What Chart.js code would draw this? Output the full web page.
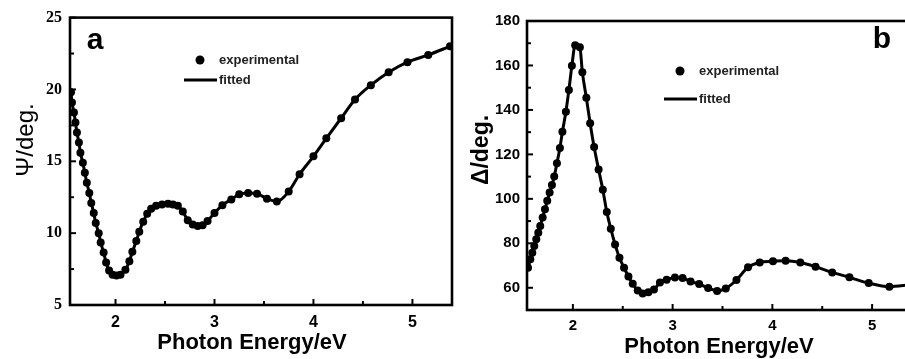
<!DOCTYPE html>
<html>
<head>
<meta charset="utf-8">
<script src="https://cdn.jsdelivr.net/npm/chart.js@4.4.1/dist/chart.umd.min.js"></script>
<style>
  html, body { margin: 0; padding: 0; background: #fff; overflow: hidden; width: 905px; height: 359px; }
  canvas { position: absolute; top: 0; }
  #chartA { left: 0; }
  #chartB { left: 460px; }
</style>
</head>
<body>
<canvas id="chartA" width="460" height="359"></canvas>
<canvas id="chartB" width="460" height="359"></canvas>
<script>
// panel a: Psi vs photon energy
const energyA = [1.55, 1.56, 1.58, 1.595, 1.61, 1.63, 1.645, 1.67, 1.69, 1.71, 1.735, 1.755, 1.78, 1.80,
  1.83, 1.85, 1.88, 1.905, 1.935, 1.97, 2.01, 2.05, 2.10, 2.14, 2.17, 2.21, 2.24, 2.28, 2.32, 2.36,
  2.41, 2.47, 2.53, 2.58, 2.63, 2.68, 2.73, 2.78, 2.83, 2.88, 2.93, 3.00, 3.08, 3.17, 3.25, 3.34,
  3.43, 3.53, 3.63, 3.75, 3.86, 4.00, 4.13, 4.28, 4.42, 4.58, 4.76, 4.95, 5.16, 5.38];
const psiA = [19.8, 19.1, 18.4, 17.7, 17.0, 16.3, 15.6, 14.9, 14.2, 13.5, 12.8, 12.1, 11.4, 10.7,
  10.0, 9.35, 8.65, 7.95, 7.4, 7.1, 7.05, 7.1, 7.45, 8.05, 8.7, 9.45, 10.1, 10.8, 11.35, 11.7,
  11.9, 12.0, 12.05, 12.0, 11.9, 11.5, 10.9, 10.6, 10.5, 10.55, 10.85, 11.4, 11.95, 12.35, 12.7, 12.8,
  12.75, 12.4, 12.2, 12.9, 14.1, 15.35, 16.6, 18.0, 19.3, 20.3, 21.2, 21.9, 22.4, 23.0];

// panel b: Delta vs photon energy
const energyB = [1.55, 1.573, 1.593, 1.613, 1.633, 1.653, 1.673, 1.697, 1.72, 1.743, 1.767, 1.79, 1.813,
  1.84, 1.87, 1.895, 1.93, 1.96, 1.99, 2.023, 2.07, 2.095, 2.135, 2.173, 2.213, 2.258, 2.30, 2.34,
  2.38, 2.423, 2.467, 2.513, 2.557, 2.60, 2.65, 2.70, 2.757, 2.813, 2.873, 2.94, 3.023, 3.10, 3.18,
  3.266, 3.356, 3.446, 3.533, 3.64, 3.756, 3.873, 4.006, 4.133, 4.28, 4.433, 4.60, 4.773, 4.966,
  5.173, 5.38];
const deltaB = [69.0, 72.8, 75.8, 78.8, 81.8, 84.8, 87.8, 91.6, 95.3, 99.1, 102.9, 106.2, 110.1,
  116.0, 122.9, 130.2, 139.2, 149.0, 159.9, 169.1, 168.2, 157.0, 145.5, 134.0, 123.3, 113.2, 104.1, 94.1,
  86.6, 79.5, 73.5, 69.0, 65.1, 61.8, 58.8, 57.4, 58.0, 59.2, 62.4, 63.6, 64.6, 64.4, 62.8,
  61.7, 59.9, 58.6, 59.7, 63.5, 69.2, 71.4, 71.9, 72.2, 71.4, 69.5, 66.9, 64.7, 62.1,
  60.5, 61.3];

const xTicks = [2, 3, 4, 5];
const xMinor = [2.5, 3.5, 4.5];
const psiTicks = [5, 10, 15, 20, 25];
const psiMinor = [7.5, 12.5, 17.5, 22.5];
const deltaTicks = [60, 80, 100, 120, 140, 160, 180];
const deltaMinor = [70, 90, 110, 130, 150, 170];

const sans = "'Liberation Sans', Arial, sans-serif";
const serif = "'Liberation Serif', 'Times New Roman', serif";

const toPoints = (xs, ys) => xs.map((x, i) => ({ x, y: ys[i] }));

// frame, inward ticks, titles, legend and panel letter
const decor = {
  id: "decor",
  afterDraw(chart, args, o) {
    const { ctx, chartArea: a, scales: { x, y } } = chart;
    ctx.save();
    ctx.strokeStyle = "#000";
    ctx.fillStyle = "#000";

    ctx.lineWidth = 2;
    const tickX = (vals, len) => vals.forEach((v) => {
      const px = x.getPixelForValue(v);
      ctx.beginPath(); ctx.moveTo(px, a.bottom); ctx.lineTo(px, a.bottom - len); ctx.stroke();
    });
    const tickY = (vals, len) => vals.forEach((v) => {
      const py = y.getPixelForValue(v);
      ctx.beginPath(); ctx.moveTo(a.left, py); ctx.lineTo(a.left + len, py); ctx.stroke();
    });
    tickX(xTicks, 6); tickX(xMinor, 4);
    tickY(o.yTicks, 6); tickY(o.yMinor, 4);

    ctx.lineWidth = 2.6;
    ctx.strokeRect(a.left, a.top, a.right - a.left, a.bottom - a.top);

    // axis titles
    ctx.textAlign = "center";
    ctx.textBaseline = "middle";
    ctx.font = "bold 22px " + sans;
    ctx.fillText("Photon Energy/eV", o.xTitle[0], o.xTitle[1]);
    ctx.save();
    ctx.translate(o.yTitle[0], o.yTitle[1]);
    ctx.rotate(-Math.PI / 2);
    ctx.font = o.yTitleFont;
    ctx.fillText(o.yTitleText, 0, 0);
    ctx.restore();

    // legend
    const [lx, ly] = o.legend;
    ctx.beginPath(); ctx.arc(lx, ly, 4.5, 0, Math.PI * 2); ctx.fill();
    ctx.lineWidth = 3;
    ctx.beginPath(); ctx.moveTo(lx - 16, ly + o.legendGap); ctx.lineTo(lx + 17, ly + o.legendGap); ctx.stroke();
    ctx.fillStyle = "#222";
    ctx.textAlign = "left";
    ctx.font = "bold 13px " + sans;
    ctx.fillText("experimental", lx + 19, ly);
    ctx.fillText("fitted", lx + 19, ly + o.legendGap);

    // panel letter
    ctx.fillStyle = "#000";
    ctx.textAlign = "center";
    ctx.font = "bold 30px " + sans;
    ctx.fillText(o.letter, o.letterPos[0], o.letterPos[1]);
    ctx.restore();
  },
};

function makeChart(id, pts, cfg) {
  return new Chart(document.getElementById(id), {
    type: "scatter",
    data: {
      datasets: [
        {
          label: "experimental",
          data: pts,
          showLine: false,
          pointRadius: 4,
          pointBackgroundColor: "#000",
          pointBorderWidth: 0,
        },
        {
          label: "fitted",
          data: pts,
          showLine: true,
          pointRadius: 0,
          borderColor: "#000",
          borderWidth: 3,
          cubicInterpolationMode: "monotone",
        },
      ],
    },
    options: {
      responsive: false,
      animation: false,
      devicePixelRatio: 1,
      layout: { padding: cfg.padding },
      plugins: { legend: { display: false }, tooltip: { enabled: false }, decor: cfg.decor },
      scales: {
        x: {
          type: "linear",
          min: 1.54,
          max: 5.4,
          grid: { display: false, drawTicks: false },
          border: { display: false },
          afterBuildTicks: (s) => { s.ticks = xTicks.map((v) => ({ value: v })); },
          afterFit: (s) => { s.height = cfg.xHeight; },
          ticks: {
            color: "#000",
            padding: cfg.xPad,
            maxRotation: 0,
            font: { family: sans, size: cfg.xFont, weight: "bold" },
          },
        },
        y: {
          min: cfg.yMin,
          max: cfg.yMax,
          grid: { display: false, drawTicks: false },
          border: { display: false },
          afterBuildTicks: (s) => { s.ticks = cfg.yTicks.map((v) => ({ value: v })); },
          afterFit: (s) => { s.width = cfg.yWidth; },
          ticks: {
            color: "#000",
            padding: cfg.yPad,
            font: cfg.yFont,
          },
        },
      },
    },
    plugins: [decor],
  });
}

makeChart("chartA", toPoints(energyA, psiA), {
  padding: { top: 17, right: 8, left: 0, bottom: 0 },
  xHeight: 54, yWidth: 70, xPad: 8, yPad: 8, xFont: 16,
  yMin: 5, yMax: 25, yTicks: psiTicks,
  yFont: { family: serif, size: 16, weight: "bold" },
  decor: {
    yTicks: psiTicks, yMinor: psiMinor,
    xTitle: [252, 343], yTitle: [26, 140],
    yTitleText: "Ψ/deg.", yTitleFont: "24px " + sans,
    legend: [200, 60], legendGap: 20,
    letter: "a", letterPos: [95, 41],
  },
});

makeChart("chartB", toPoints(energyB, deltaB), {
  padding: { top: 21, right: 8, left: 0, bottom: 0 },
  xHeight: 49, yWidth: 67, xPad: 7, yPad: 7, xFont: 15,
  yMin: 50, yMax: 180, yTicks: deltaTicks,
  yFont: { family: sans, size: 15, weight: "bold" },
  decor: {
    yTicks: deltaTicks, yMinor: deltaMinor,
    xTitle: [259, 347], yTitle: [22, 150],
    yTitleText: "Δ/deg.", yTitleFont: "bold 23px " + sans,
    legend: [220, 71], legendGap: 28,
    letter: "b", letterPos: [422, 40],
  },
});
</script>
</body>
</html>
